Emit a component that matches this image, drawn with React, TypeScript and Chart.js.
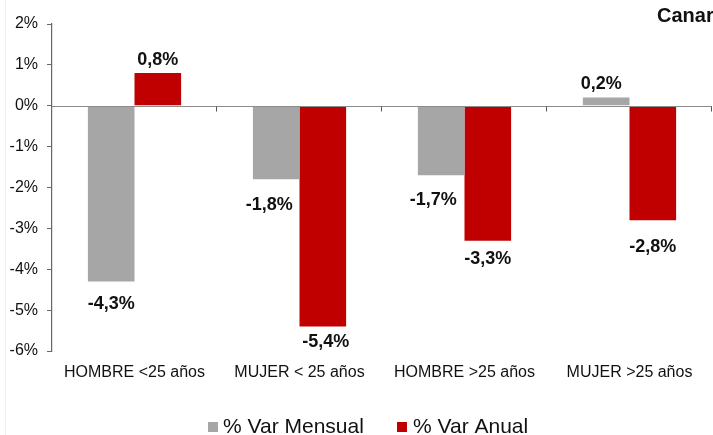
import React, { useEffect, useRef } from "react";
import { Chart, registerables } from "chart.js";

Chart.register(...registerables);

const categories = ["HOMBRE <25 años", "MUJER < 25 años", "HOMBRE >25 años", "MUJER >25 años"];
const mensual = [-4.3, -1.8, -1.7, 0.2];
const anual = [0.8, -5.4, -3.3, -2.8];
const seriesNames = ["% Var Mensual", "% Var Anual"];
const seriesColors = ["#A6A6A6", "#C00000"];
const yTicks = { min: -6, max: 2, step: 1 };
const titleText = "Canarias";

// label nudges (px) to mimic the hand-placed labels of the original
const labelGap = [
  [14, 18, 17, 9],
  [8, 8, 10, 19],
];
const labelShiftX = [
  [0, -7, -8, -5],
  [0, 3, 0, 0],
];

const fmt = (v: number) => v.toFixed(1).replace(".", ",") + "%";

const overlay = {
  id: "overlay",
  afterDatasetsDraw(chart: any) {
    const ctx = chart.ctx;
    const ca = chart.chartArea;
    const y = chart.scales.y;
    const y0 = Math.round(y.getPixelForValue(0)) + 0.5;
    ctx.save();
    ctx.strokeStyle = "#8C8C8C";
    ctx.lineWidth = 1.2;
    ctx.beginPath();
    ctx.moveTo(ca.left, y0);
    ctx.lineTo(ca.right, y0);
    ctx.stroke();
    const n = categories.length;
    const w = (ca.right - ca.left) / n;
    ctx.strokeStyle = "#555";
    ctx.lineWidth = 1;
    for (let i = 1; i <= n; i++) {
      const xx = Math.round(ca.left + w * i) - 0.5;
      ctx.beginPath();
      ctx.moveTo(xx, y0);
      ctx.lineTo(xx, y0 + 5);
      ctx.stroke();
    }
    ctx.font = "bold 18px 'Liberation Sans', Arial, sans-serif";
    ctx.fillStyle = "#111";
    ctx.textAlign = "center";
    ctx.textBaseline = "alphabetic";
    chart.data.datasets.forEach((ds: any, di: number) => {
      const meta = chart.getDatasetMeta(di);
      meta.data.forEach((bar: any, i: number) => {
        const v = ds.data[i];
        const gap = labelGap[di][i];
        const lx = bar.x + labelShiftX[di][i];
        if (v >= 0) {
          ctx.fillText(fmt(v), lx, bar.y - gap);
        } else {
          ctx.fillText(fmt(v), lx, bar.y + gap + 13);
        }
      });
    });
    ctx.restore();
  },
  afterDraw(chart: any) {
    const ctx = chart.ctx;
    ctx.save();
    ctx.strokeStyle = "#F0F0F0";
    ctx.lineWidth = 1;
    ctx.beginPath();
    ctx.moveTo(5.5, 0);
    ctx.lineTo(5.5, chart.height);
    ctx.stroke();
    ctx.font = "bold 20px 'Liberation Sans', Arial, sans-serif";
    ctx.fillStyle = "#111";
    ctx.textAlign = "left";
    ctx.textBaseline = "alphabetic";
    ctx.fillText(titleText, 657, 22);
    ctx.font = "21px 'Liberation Sans', Arial, sans-serif";
    const items = [
      { sx: 208, tx: 223 },
      { sx: 397, tx: 413 },
    ];
    items.forEach((it, i) => {
      ctx.fillStyle = seriesColors[i];
      ctx.fillRect(it.sx, 422, 10, 10);
      ctx.fillStyle = "#111";
      ctx.fillText(seriesNames[i], it.tx, 433);
    });
    ctx.restore();
  },
};

export default function App() {
  const ref = useRef<HTMLCanvasElement>(null);
  useEffect(() => {
    document.body.style.margin = "0";
    document.body.style.overflow = "hidden";
    const chart = new Chart(ref.current!, {
      type: "bar",
      data: {
        labels: categories,
        datasets: [
          { label: seriesNames[0], data: mensual, backgroundColor: seriesColors[0], categoryPercentage: 0.565, barPercentage: 1 },
          { label: seriesNames[1], data: anual, backgroundColor: seriesColors[1], categoryPercentage: 0.565, barPercentage: 1 },
        ],
      },
      options: {
        responsive: false,
        animation: false,
        layout: { padding: { top: 24, right: 1, bottom: 0, left: 0 } },
        plugins: { legend: { display: false }, tooltip: { enabled: false }, title: { display: false } },
        scales: {
          x: {
            grid: { display: false, drawTicks: false },
            border: { display: false },
            ticks: {
              color: "#111",
              font: { family: "'Liberation Sans', Arial, sans-serif", size: 16 },
              padding: 12,
              maxRotation: 0,
              autoSkip: false,
            },
            afterFit: (s: any) => { s.height = 84; },
          },
          y: {
            min: yTicks.min,
            max: yTicks.max,
            ticks: {
              stepSize: yTicks.step,
              callback: (v: any) => v + "%",
              color: "#111",
              font: { family: "'Liberation Sans', Arial, sans-serif", size: 16 },
              padding: 9,
            },
            grid: { drawOnChartArea: false, tickLength: 5, tickColor: "#666" },
            border: { display: true, color: "#666", width: 1.2 },
            afterFit: (s: any) => { s.width = 52; },
          },
        },
      },
      plugins: [overlay],
    });
    return () => chart.destroy();
  }, []);
  return (
    <div style={{ width: 713, height: 435, background: "#fff" }}>
      <canvas ref={ref} width={713} height={435} />
    </div>
  );
}
